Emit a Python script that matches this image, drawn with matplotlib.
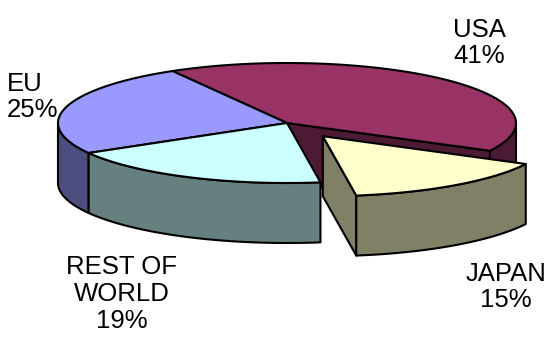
import matplotlib.pyplot as plt
import numpy as np
from matplotlib.patches import Polygon

# Data (clockwise from the top-left)
labels = ['USA', 'JAPAN', 'REST OF\nWORLD', 'EU']
values = [41, 15, 19, 25]
top_colors = ['#993366', '#ffffcc', '#ccffff', '#9999ff']
side_colors = ['#4d1a33', '#808066', '#668080', '#4d4d80']
explode = [0, 0.27, 0, 0]

# label anchors in pixel space
label_pos = [(479, 43), (506, 287), (122, 294), (33, 97)]
label_align = ['center', 'center', 'center', 'left']

# pie geometry (pixels)
cx, cy = 287, 123
rx, ry = 229, 60
depth = 60
start = 120.0

fig = plt.figure(figsize=(5.53, 3.38), dpi=100)
ax = fig.add_axes([0, 0, 1, 1])
ax.set_xlim(0, 553)
ax.set_ylim(338, 0)
ax.axis('off')


def pt(t, off, dz=0.0):
    r = np.radians(t)
    return (cx + rx * np.cos(r) + off[0], cy - ry * np.sin(r) + off[1] + dz)


def arc(t1, t2, off, dz=0.0, n=80):
    ts = np.linspace(t1, t2, n)
    return [pt(t, off, dz) for t in ts]


def draw(poly, color, z):
    ax.add_patch(Polygon(poly, closed=True, facecolor=color, edgecolor='black',
                         linewidth=1.5, joinstyle='round', zorder=z))


# slice angles (counter-clockwise t1 < t2)
fracs = np.array(values) / sum(values) * 360
slices = []
a = start
for i, f in enumerate(fracs):
    t2 = a
    t1 = a - f
    a = t1
    mid = np.radians((t1 + t2) / 2)
    e = explode[i]
    off = (e * rx * np.cos(mid), -e * ry * np.sin(mid))
    slices.append((t1, t2, off))

n = len(values)


def radial_face(i, t, z):
    t1, t2, off = slices[i]
    c_top = (cx + off[0], cy + off[1])
    c_bot = (cx + off[0], cy + off[1] + depth)
    draw([c_top, pt(t, off), pt(t, off, depth), c_bot], side_colors[i], z)


def wall(i, z):
    t1, t2, off = slices[i]
    for lo, hi in [(-180, 0), (180, 360), (540, 720)]:
        a1, a2 = max(t1, lo), min(t2, hi)
        if a2 > a1:
            poly = arc(a1, a2, off) + arc(a2, a1, off, depth)
            draw(poly, side_colors[i], z)


def top(i, z):
    t1, t2, off = slices[i]
    poly = [(cx + off[0], cy + off[1])] + arc(t1, t2, off)
    draw(poly, top_colors[i], z)


# radial faces that are exposed by an exploded neighbour
z = 1
for i in range(n):
    t1, t2, off = slices[i]
    prev_i, next_i = (i + 1) % n, (i - 1) % n
    if np.cos(np.radians(t1)) > 0 and (explode[i] or explode[prev_i]):
        radial_face(i, t1, z if not explode[i] else 20)
    if np.cos(np.radians(t2)) < 0 and (explode[i] or explode[next_i]):
        radial_face(i, t2, z if not explode[i] else 20)

# back to front
order = sorted(range(n), key=lambda k: -np.sin(np.radians((slices[k][0] + slices[k][1]) / 2)))
order = [k for k in order if not explode[k]] + [k for k in order if explode[k]]
for rank, i in enumerate(order):
    wall(i, 5 + rank * 5 + 16 * (explode[i] > 0))
    top(i, 6 + rank * 5 + 16 * (explode[i] > 0))

for i in range(n):
    pct = round(values[i])
    ax.text(label_pos[i][0], label_pos[i][1], f'{labels[i]}\n{pct}%',
            ha='center', va='center', multialignment=label_align[i],
            fontsize=18.5, family='Liberation Sans', linespacing=1.15,
            zorder=50)

fig.savefig('out.png', dpi=100)
